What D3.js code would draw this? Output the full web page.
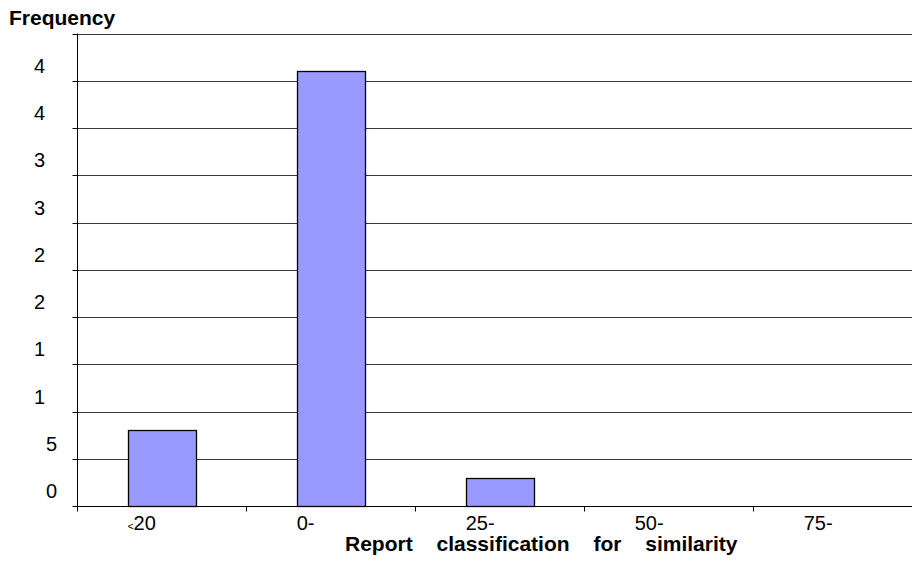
<!DOCTYPE html>
<html>
<head>
<meta charset="utf-8">
<script src="https://cdn.jsdelivr.net/npm/d3@7"></script>
<style>
  html, body { margin: 0; padding: 0; background: #fff; }
  svg { display: block; font-family: "Liberation Sans", Arial, sans-serif; }
</style>
</head>
<body>
<svg id="chart" width="912" height="561"></svg>
<script>
// Similarity class bins and the number of reports in each
const categories = ["<20", "0-", "25-", "50-", "75-"];
const frequencies = [8, 46, 3, 0, 0];

// Value axis: gridline values and the labels printed beside them
const yGridValues = [0, 5, 10, 15, 20, 25, 30, 35, 40, 45, 50];
const yTickValues = [0, 5, 10, 15, 20, 25, 30, 35, 40, 45];
const yTickLabels = ["0", "5", "1", "1", "2", "2", "3", "3", "4", "4"];

const yTitle = "Frequency";
const xTitle = "Report classification for similarity";

const svg = d3.select("#chart");
const margin = { left: 77, top: 33.5, bottom: 506, right: 922 };

const x = d3.scaleBand()
  .domain(categories)
  .range([margin.left, margin.right])
  .paddingInner(0)
  .paddingOuter(0);

const y = d3.scaleLinear()
  .domain([0, 50])
  .range([margin.bottom, margin.top]);

const barWidth = x.bandwidth() * 0.4;
const barInset = (x.bandwidth() - barWidth) / 2;

// Horizontal gridlines
svg.append("g")
  .selectAll("line")
  .data(yGridValues.filter(v => v > 0))
  .join("line")
  .attr("x1", margin.left)
  .attr("x2", margin.right)
  .attr("y1", d => Math.round(y(d)) + 0.5)
  .attr("y2", d => Math.round(y(d)) + 0.5)
  .attr("stroke", "#3a3a3a")
  .attr("stroke-width", 1);

// Bars
svg.append("g")
  .selectAll("rect")
  .data(categories.map((c, i) => ({ c, v: frequencies[i] })).filter(d => d.v > 0))
  .join("rect")
  .attr("x", d => Math.round(x(d.c) + barInset) + 0.5)
  .attr("y", d => Math.round(y(d.v)) + 0.5)
  .attr("width", Math.round(barWidth))
  .attr("height", d => Math.round(y(0)) - Math.round(y(d.v)))
  .attr("fill", "#9999ff")
  .attr("stroke", "#000")
  .attr("stroke-width", 1.3);

// Y axis line and its tick marks
const yAxisX = Math.round(margin.left) + 0.5;
svg.append("line")
  .attr("x1", yAxisX).attr("x2", yAxisX)
  .attr("y1", margin.top).attr("y2", margin.bottom + 5)
  .attr("stroke", "#000");
svg.append("g")
  .selectAll("line")
  .data(yGridValues)
  .join("line")
  .attr("x1", yAxisX - 5).attr("x2", yAxisX)
  .attr("y1", d => Math.round(y(d)) + 0.5)
  .attr("y2", d => Math.round(y(d)) + 0.5)
  .attr("stroke", "#000");

// X axis line and category boundary ticks
const xAxisY = Math.round(y(0)) + 0.5;
svg.append("line")
  .attr("x1", margin.left).attr("x2", margin.right)
  .attr("y1", xAxisY).attr("y2", xAxisY)
  .attr("stroke", "#000");
svg.append("g")
  .selectAll("line")
  .data(categories)
  .join("line")
  .attr("x1", d => Math.round(x(d)) + 0.5)
  .attr("x2", d => Math.round(x(d)) + 0.5)
  .attr("y1", xAxisY).attr("y2", xAxisY + 5)
  .attr("stroke", "#000");

// Y tick labels, right-aligned in a column that leaves room for a second digit
const tickFont = 20;
const digitW = 12;
svg.append("g")
  .selectAll("text")
  .data(yTickValues)
  .join("text")
  .attr("x", d => 57 - (String(d).length - 1) * digitW)
  .attr("y", d => y(d) - 8)
  .attr("text-anchor", "end")
  .attr("font-size", tickFont)
  .attr("fill", "#000")
  .text((d, i) => yTickLabels[i]);

// Category labels, left-aligned with the bar slot in each bin
const xLabels = svg.append("g")
  .selectAll("text")
  .data(categories)
  .join("text")
  .attr("x", d => x(d) + barInset)
  .attr("y", 530)
  .attr("font-size", tickFont)
  .attr("fill", "#000");
xLabels.each(function (d) {
  const t = d3.select(this);
  if (d.startsWith("<")) {
    t.append("tspan").attr("font-size", 10).text("<");
    t.append("tspan").text(d.slice(1));
  } else {
    t.text(d);
  }
});

// Axis titles
svg.append("text")
  .attr("x", 9)
  .attr("y", 25)
  .attr("font-size", 21)
  .attr("font-weight", "bold")
  .text(yTitle);

svg.append("text")
  .attr("x", 345)
  .attr("y", 551)
  .attr("font-size", 21)
  .attr("font-weight", "bold")
  .attr("word-spacing", 18)
  .text(xTitle);
</script>
</body>
</html>
